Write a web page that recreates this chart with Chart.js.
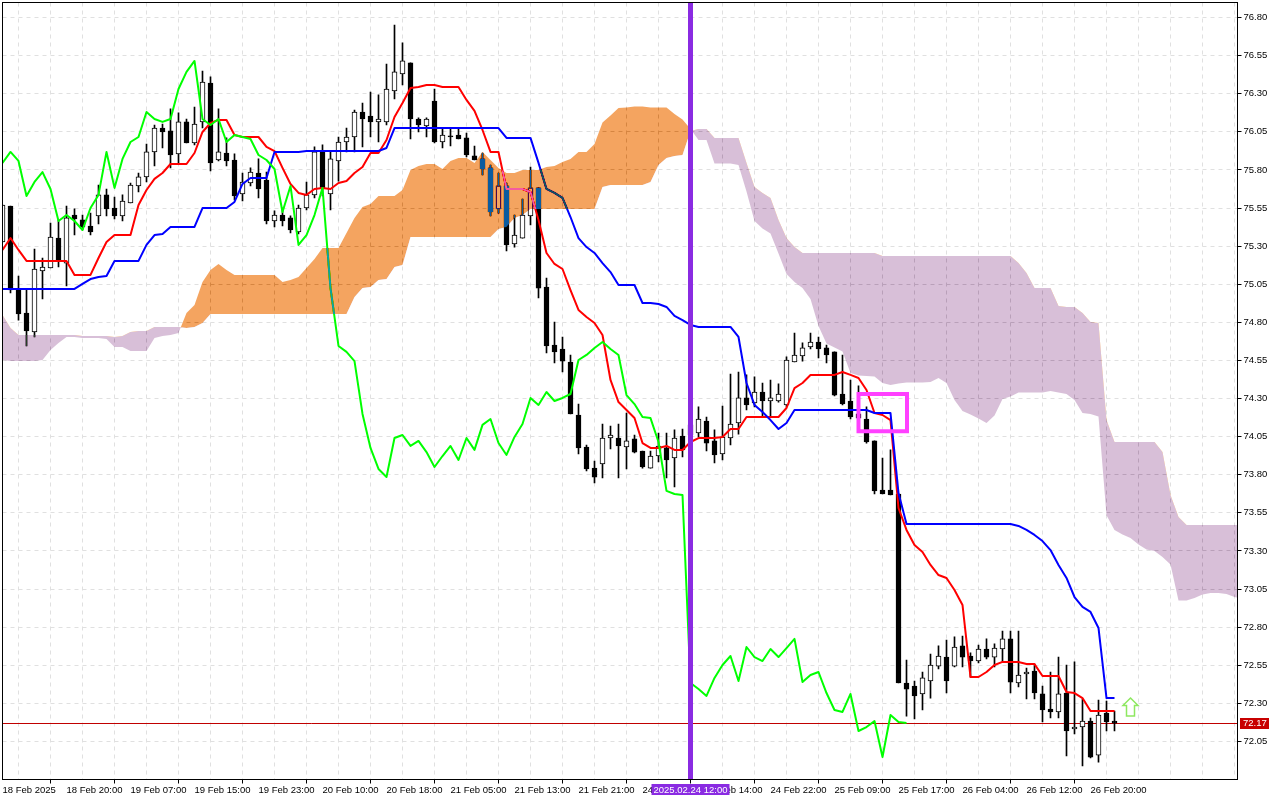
<!DOCTYPE html>
<html>
<head>
<meta charset="utf-8">
<title>Ichimoku H1</title>
<script src="https://cdn.jsdelivr.net/npm/chart.js"></script>
<style>
  html, body { margin: 0; padding: 0; background: #fff; }
  canvas { display: block; }
</style>
</head>
<body>
<canvas id="grafico" width="1280" height="800"></canvas>
<script>
// Tick labels
const xLabels = ["18 Feb 2025", "18 Feb 20:00", "19 Feb 07:00", "19 Feb 15:00", "19 Feb 23:00", "20 Feb 10:00",
  "20 Feb 18:00", "21 Feb 05:00", "21 Feb 13:00", "21 Feb 21:00", "24 Feb 06:00", "24 Feb 14:00", "24 Feb 22:00",
  "25 Feb 09:00", "25 Feb 17:00", "26 Feb 04:00", "26 Feb 12:00", "26 Feb 20:00"];
const yTicks = [76.80, 76.55, 76.30, 76.05, 75.80, 75.55, 75.30, 75.05, 74.80, 74.55, 74.30, 74.05, 73.80, 73.55,
  73.30, 73.05, 72.80, 72.55, 72.30, 72.05];

// Candles
const opens = [75.327, 75.563, 75.019, 74.861, 74.737, 75.137, 75.157, 75.353, 75.189, 75.504,
  75.472, 75.432, 75.498, 75.636, 75.550, 75.498, 75.583, 75.695, 75.754, 75.918,
  76.075, 76.056, 75.905, 76.115, 75.977, 76.115, 76.370, 75.865, 75.911, 75.865,
  75.642, 75.714, 75.780, 75.734, 75.465, 75.504, 75.485, 75.393, 75.550, 75.636,
  75.918, 75.642, 75.859, 75.983, 76.016, 76.180, 76.154, 76.115, 76.115, 76.318,
  76.430, 76.502, 76.134, 76.088, 76.252, 75.983, 76.023, 76.029, 76.010, 75.892,
  75.872, 75.813, 75.544, 75.695, 75.314, 75.353, 75.498, 75.682, 75.032, 74.651,
  74.625, 74.540, 74.192, 73.982, 73.844, 73.871, 74.041, 74.041, 73.982, 74.035,
  73.956, 73.844, 73.923, 73.976, 73.910, 74.054, 74.061, 74.074, 74.153, 74.022,
  73.936, 74.041, 74.140, 74.304, 74.271, 74.343, 74.284, 74.284, 74.258, 74.540,
  74.579, 74.638, 74.671, 74.632, 74.606, 74.330, 74.284, 74.199, 74.166, 74.022,
  73.700, 73.700, 73.674, 72.434, 72.414, 72.362, 72.447, 72.545, 72.604, 72.545,
  72.677, 72.611, 72.578, 72.657, 72.604, 72.657, 72.723, 72.434, 72.493, 72.512,
  72.362, 72.263, 72.244, 72.368, 72.132, 72.145, 72.184, 71.961, 72.237, 72.184];
const highs = [75.570, 75.563, 75.104, 75.012, 75.281, 75.222, 75.452, 75.472, 75.563, 75.544,
  75.504, 75.517, 75.701, 75.675, 75.622, 75.636, 75.714, 75.780, 75.970, 76.095,
  76.101, 76.200, 76.174, 76.134, 76.213, 76.449, 76.410, 76.200, 76.010, 75.905,
  75.780, 75.813, 75.872, 75.786, 75.531, 75.550, 75.498, 75.570, 75.721, 75.951,
  75.964, 75.918, 76.016, 76.075, 76.193, 76.239, 76.311, 76.292, 76.495, 76.751,
  76.633, 76.502, 76.141, 76.141, 76.331, 76.069, 76.069, 76.075, 76.042, 75.957,
  75.911, 75.832, 75.780, 75.714, 75.504, 75.609, 75.819, 75.682, 75.091, 74.802,
  74.704, 74.586, 74.264, 73.995, 73.890, 74.133, 74.120, 74.133, 74.205, 74.061,
  73.956, 73.956, 74.074, 74.074, 74.094, 74.100, 74.192, 74.245, 74.179, 74.094,
  74.251, 74.461, 74.474, 74.455, 74.442, 74.402, 74.422, 74.396, 74.573, 74.730,
  74.665, 74.730, 74.704, 74.651, 74.606, 74.586, 74.422, 74.383, 74.245, 74.022,
  73.910, 73.963, 73.674, 72.585, 72.447, 72.506, 72.624, 72.677, 72.716, 72.736,
  72.742, 72.631, 72.683, 72.723, 72.690, 72.775, 72.775, 72.775, 72.532, 72.558,
  72.414, 72.506, 72.604, 72.552, 72.572, 72.329, 72.204, 72.322, 72.316, 72.250];
const lows = [75.327, 74.993, 74.815, 74.645, 74.704, 74.953, 75.157, 75.163, 75.039, 75.373,
  75.406, 75.373, 75.445, 75.498, 75.478, 75.465, 75.583, 75.655, 75.721, 75.826,
  75.944, 75.813, 75.846, 75.977, 75.964, 76.075, 75.793, 75.859, 75.826, 75.603,
  75.596, 75.695, 75.616, 75.445, 75.426, 75.432, 75.386, 75.380, 75.537, 75.616,
  75.629, 75.537, 75.727, 75.918, 75.918, 75.951, 76.016, 75.983, 76.095, 76.265,
  76.357, 76.003, 76.049, 76.016, 75.977, 75.944, 75.957, 76.003, 75.885, 75.865,
  75.767, 75.498, 75.517, 75.268, 75.294, 75.353, 75.439, 74.960, 74.599, 74.533,
  74.474, 74.199, 73.936, 73.825, 73.746, 73.779, 73.969, 73.779, 73.838, 73.943,
  73.844, 73.844, 73.884, 73.779, 73.720, 73.917, 74.028, 74.048, 73.956, 73.877,
  73.897, 73.995, 74.067, 74.225, 74.245, 74.179, 74.179, 74.277, 74.245, 74.540,
  74.546, 74.625, 74.566, 74.533, 74.317, 74.258, 74.166, 74.150, 74.008, 73.674,
  73.674, 73.667, 72.434, 72.217, 72.198, 72.257, 72.335, 72.526, 72.368, 72.539,
  72.539, 72.473, 72.565, 72.591, 72.539, 72.572, 72.368, 72.408, 72.329, 72.329,
  72.178, 72.204, 72.204, 71.955, 72.099, 71.889, 71.942, 71.915, 72.119, 72.119];
const closes = [75.570, 75.012, 74.855, 74.743, 75.150, 75.163, 75.360, 75.203, 75.485, 75.478,
  75.426, 75.393, 75.636, 75.544, 75.498, 75.596, 75.701, 75.754, 75.918, 76.075,
  76.049, 75.898, 76.115, 75.977, 76.101, 76.377, 75.846, 75.918, 75.859, 75.629,
  75.721, 75.786, 75.675, 75.465, 75.504, 75.465, 75.406, 75.550, 75.636, 75.918,
  75.682, 75.872, 75.983, 76.016, 76.180, 76.134, 76.115, 76.134, 76.331, 76.443,
  76.515, 76.134, 76.095, 76.134, 75.983, 76.029, 76.016, 76.003, 75.898, 75.865,
  75.806, 75.524, 75.695, 75.308, 75.373, 75.504, 75.682, 75.025, 74.645, 74.606,
  74.546, 74.199, 73.976, 73.838, 73.785, 74.041, 74.061, 73.989, 74.022, 73.949,
  73.851, 73.923, 73.989, 73.897, 74.041, 73.963, 74.127, 74.166, 74.008, 73.930,
  74.048, 74.133, 74.304, 74.258, 74.343, 74.284, 74.304, 74.330, 74.553, 74.586,
  74.632, 74.671, 74.625, 74.586, 74.323, 74.264, 74.179, 74.172, 74.015, 73.694,
  73.674, 73.667, 72.434, 72.394, 72.349, 72.467, 72.552, 72.611, 72.447, 72.670,
  72.604, 72.578, 72.657, 72.604, 72.663, 72.723, 72.440, 72.486, 72.506, 72.368,
  72.257, 72.244, 72.362, 72.119, 72.145, 72.184, 71.948, 72.224, 72.178, 72.171];

// Ichimoku lines
const tenkan = [75.275, 75.353, 75.275, 75.203, 75.203, 75.203, 75.203, 75.203, 75.203, 75.111,
  75.111, 75.111, 75.222, 75.327, 75.373, 75.373, 75.373, 75.570, 75.668, 75.741,
  75.780, 75.839, 75.839, 75.839, 75.911, 76.049, 76.108, 76.128, 76.128, 76.029,
  76.016, 76.016, 76.016, 75.951, 75.924, 75.813, 75.708, 75.649, 75.636, 75.675,
  75.682, 75.675, 75.714, 75.727, 75.780, 75.819, 75.911, 75.911, 75.996, 76.147,
  76.239, 76.338, 76.344, 76.357, 76.357, 76.344, 76.344, 76.344, 76.259, 76.187,
  76.062, 75.918, 75.918, 75.675, 75.675, 75.675, 75.655, 75.472, 75.255, 75.183,
  75.150, 75.012, 74.881, 74.835, 74.796, 74.717, 74.422, 74.277, 74.225, 74.172,
  74.008, 73.976, 73.976, 73.989, 73.963, 73.963, 74.015, 74.041, 74.041, 74.041,
  74.048, 74.100, 74.100, 74.179, 74.179, 74.179, 74.179, 74.179, 74.238, 74.369,
  74.402, 74.455, 74.455, 74.455, 74.455, 74.474, 74.455, 74.435, 74.356, 74.205,
  74.192, 74.159, 73.582, 73.438, 73.339, 73.293, 73.208, 73.142, 73.123, 73.044,
  72.946, 72.473, 72.473, 72.506, 72.552, 72.572, 72.572, 72.572, 72.558, 72.558,
  72.480, 72.480, 72.480, 72.375, 72.368, 72.335, 72.250, 72.250, 72.250, 72.250];
const kijun = [75.019, 75.019, 75.019, 75.019, 75.019, 75.019, 75.019, 75.019, 75.019, 75.019,
  75.052, 75.084, 75.098, 75.104, 75.203, 75.203, 75.203, 75.203, 75.308, 75.373,
  75.380, 75.426, 75.426, 75.426, 75.426, 75.550, 75.550, 75.550, 75.550, 75.590,
  75.708, 75.747, 75.747, 75.747, 75.918, 75.918, 75.918, 75.918, 75.924, 75.924,
  75.924, 75.924, 75.924, 75.924, 75.924, 75.924, 75.924, 75.924, 75.944, 76.075,
  76.075, 76.075, 76.075, 76.075, 76.075, 76.075, 76.075, 76.075, 76.075, 76.075,
  76.075, 76.075, 76.075, 76.010, 76.010, 76.010, 76.010, 75.846, 75.675, 75.649,
  75.616, 75.491, 75.353, 75.294, 75.255, 75.189, 75.130, 75.045, 75.045, 75.045,
  74.927, 74.927, 74.920, 74.901, 74.842, 74.815, 74.783, 74.770, 74.770, 74.770,
  74.770, 74.770, 74.704, 74.402, 74.258, 74.212, 74.159, 74.100, 74.140, 74.225,
  74.225, 74.225, 74.225, 74.225, 74.225, 74.225, 74.225, 74.225, 74.225, 74.205,
  74.205, 74.205, 73.680, 73.477, 73.477, 73.477, 73.477, 73.477, 73.477, 73.477,
  73.477, 73.477, 73.477, 73.477, 73.477, 73.477, 73.477, 73.464, 73.438, 73.405,
  73.365, 73.306, 73.208, 73.123, 72.998, 72.933, 72.900, 72.795, 72.335, 72.335];
const chikou = [75.846, 75.918, 75.859, 75.629, 75.721, 75.786, 75.675, 75.465, 75.504, 75.465,
  75.406, 75.550, 75.636, 75.918, 75.682, 75.872, 75.983, 76.016, 76.180, 76.134,
  76.115, 76.134, 76.331, 76.443, 76.515, 76.134, 76.095, 76.134, 75.983, 76.029,
  76.016, 76.003, 75.898, 75.865, 75.806, 75.524, 75.695, 75.308, 75.373, 75.504,
  75.682, 75.025, 74.645, 74.606, 74.546, 74.199, 73.976, 73.838, 73.785, 74.041,
  74.061, 73.989, 74.022, 73.949, 73.851, 73.923, 73.989, 73.897, 74.041, 73.963,
  74.127, 74.166, 74.008, 73.930, 74.048, 74.133, 74.304, 74.258, 74.343, 74.284,
  74.304, 74.330, 74.553, 74.586, 74.632, 74.671, 74.625, 74.586, 74.323, 74.264,
  74.179, 74.172, 74.015, 73.694, 73.674, 73.667, 72.434, 72.394, 72.349, 72.467,
  72.552, 72.611, 72.447, 72.670, 72.604, 72.578, 72.657, 72.604, 72.663, 72.723,
  72.440, 72.486, 72.506, 72.368, 72.257, 72.244, 72.362, 72.119, 72.145, 72.184,
  71.948, 72.224, 72.178, 72.171];

// Kumo edges, already shifted forward
const senkouA = [74.553, 74.546, 74.546, 74.546, 74.546, 74.553, 74.619, 74.665, 74.704, 74.704,
  74.697, 74.697, 74.697, 74.691, 74.638, 74.638, 74.612, 74.612, 74.612, 74.697,
  74.710, 74.717, 74.730, 74.861, 74.914, 75.065, 75.144, 75.183, 75.144, 75.111,
  75.111, 75.111, 75.111, 75.111, 75.111, 75.065, 75.078, 75.098, 75.157, 75.216,
  75.288, 75.288, 75.288, 75.386, 75.485, 75.557, 75.577, 75.629, 75.629, 75.629,
  75.668, 75.800, 75.826, 75.839, 75.839, 75.806, 75.859, 75.878, 75.878, 75.846,
  75.918, 75.865, 75.813, 75.780, 75.780, 75.800, 75.800, 75.800, 75.819, 75.826,
  75.852, 75.872, 75.918, 75.918, 75.970, 76.111, 76.157, 76.206, 76.210, 76.216,
  76.216, 76.210, 76.210, 76.210, 76.167, 76.131, 76.069, 75.996, 75.996, 75.842,
  75.842, 75.842, 75.832, 75.659, 75.465, 75.416, 75.383, 75.252, 75.117, 75.065,
  75.025, 74.953, 74.776, 74.661, 74.635, 74.609, 74.468, 74.451, 74.448, 74.445,
  74.402, 74.389, 74.399, 74.405, 74.405, 74.405, 74.409, 74.435, 74.402, 74.291,
  74.218, 74.195, 74.169, 74.140, 74.189, 74.297, 74.314, 74.340, 74.340, 74.340,
  74.340, 74.350, 74.340, 74.330, 74.291, 74.205, 74.199, 74.182, 73.535, 73.438,
  73.408, 73.385, 73.342, 73.310, 73.300, 73.261, 73.211, 72.975, 72.975, 72.991,
  73.014, 73.024, 73.024, 73.018, 72.998, 72.985];
const senkouB = [74.848, 74.763, 74.717, 74.717, 74.717, 74.717, 74.717, 74.717, 74.717, 74.717,
  74.710, 74.710, 74.710, 74.710, 74.704, 74.710, 74.737, 74.743, 74.743, 74.770,
  74.770, 74.770, 74.770, 74.763, 74.770, 74.796, 74.855, 74.855, 74.855, 74.855,
  74.855, 74.855, 74.855, 74.855, 74.855, 74.855, 74.855, 74.855, 74.855, 74.855,
  74.855, 74.855, 74.855, 74.855, 74.966, 75.025, 75.032, 75.078, 75.084, 75.163,
  75.176, 75.360, 75.360, 75.360, 75.360, 75.360, 75.360, 75.360, 75.360, 75.360,
  75.360, 75.360, 75.413, 75.426, 75.485, 75.504, 75.544, 75.544, 75.544, 75.544,
  75.544, 75.544, 75.544, 75.544, 75.544, 75.688, 75.701, 75.701, 75.701, 75.701,
  75.701, 75.721, 75.832, 75.878, 75.892, 75.898, 76.056, 76.069, 76.069, 76.010,
  76.010, 76.010, 76.010, 75.846, 75.688, 75.649, 75.616, 75.472, 75.353, 75.294,
  75.2545, 75.2545, 75.2545, 75.2545, 75.2545, 75.2545, 75.2545, 75.2545, 75.2545, 75.2545,
  75.235, 75.235, 75.235, 75.235, 75.235, 75.235, 75.235, 75.235, 75.235, 75.235,
  75.235, 75.235, 75.235, 75.235, 75.235, 75.235, 75.235, 75.189, 75.124, 75.025,
  75.025, 75.025, 74.907, 74.901, 74.901, 74.861, 74.802, 74.796, 74.159, 74.015,
  74.015, 74.015, 74.015, 74.015, 74.015, 73.949, 73.667, 73.523, 73.4705, 73.4705,
  73.4705, 73.4705, 73.4705, 73.4705, 73.4705, 73.4705];

// Annotations
const lastPrice = 72.168;
const markerBar = 86;
const markerLabel = "2025.02.24 12:00";
const boxX = [107, 113.06, 113.06, 107, 107];
const boxY = [74.33, 74.33, 74.085, 74.085, 74.33];
const arrowBar = 141;
const arrowPrice = 72.273;

const yMin = 71.8007, yMax = 76.8984;
const xMax = 154.375;

const bars = opens.map((o, i) => i);
const pts = (arr) => arr.map((y, i) => ({ x: i, y: y }));
const linea = (label, data, color, order) => ({
  type: "line", label, data, order, borderColor: color, borderWidth: 2,
  pointRadius: 0, tension: 0, fill: false, borderJoinStyle: "round"
});
// no extra room for the first and last tick labels
const sinPadding = (s) => { s.paddingTop = 0; s.paddingBottom = 0; s.paddingLeft = 0; s.paddingRight = 0; };

const fondo = {
  id: "fondo",
  beforeDraw(chart) {
    const c = chart.ctx;
    c.save();
    c.fillStyle = "#ffffff";
    c.fillRect(0, 0, chart.width, chart.height);
    c.restore();
  },
  // the kumo inverts whatever is under it, same as the terminal does
  afterDatasetDraw(chart, args) {
    const name = chart.data.datasets[args.index].label;
    if (name === "Chikou") chart.ctx.globalCompositeOperation = "difference";
    if (name === "Senkou A") chart.ctx.globalCompositeOperation = "source-over";
  },
  afterDraw(chart) {
    const c = chart.ctx, a = chart.chartArea;
    const x = chart.scales.x, y = chart.scales.y;
    c.save();
    c.strokeStyle = "#000000";
    c.lineWidth = 1;
    c.strokeRect(a.left, a.top, a.right - a.left, a.bottom - a.top);

    // last price tag
    const py = Math.floor(y.getPixelForValue(lastPrice));
    c.fillStyle = "#c80000";
    c.fillRect(1240, py - 5, 29, 11);
    c.fillStyle = "#ffffff";
    c.font = "9.5px 'Liberation Sans'";
    c.textBaseline = "middle";
    c.textAlign = "left";
    c.fillText(lastPrice.toFixed(2), 1243, py + 0.5);

    // vertical marker date
    const mx = x.getPixelForValue(markerBar);
    c.fillStyle = "#8a2be2";
    c.fillRect(mx - 39, 784, 78, 11);
    c.fillStyle = "#ffffff";
    c.textAlign = "center";
    c.fillText(markerLabel, mx, 790);

    // buy arrow
    const ax = x.getPixelForValue(arrowBar), ay = y.getPixelForValue(arrowPrice);
    c.beginPath();
    c.moveTo(ax, ay - 9.5);
    c.lineTo(ax + 7.5, ay - 2);
    c.lineTo(ax + 4, ay - 2);
    c.lineTo(ax + 4, ay + 8.5);
    c.lineTo(ax - 4, ay + 8.5);
    c.lineTo(ax - 4, ay - 2);
    c.lineTo(ax - 7.5, ay - 2);
    c.closePath();
    c.fillStyle = "#ffffff";
    c.fill();
    c.strokeStyle = "#8ee860";
    c.lineWidth = 1.5;
    c.stroke();
    c.restore();
  }
};

new Chart(document.getElementById("grafico").getContext("2d"), {
  data: {
    datasets: [
      {
        type: "line", label: "Box", data: boxX.map((v, i) => ({ x: v, y: boxY[i] })), order: 1,
        borderColor: "#ff40ff", borderWidth: 4, pointRadius: 0, tension: 0, fill: false,
        borderJoinStyle: "miter", borderCapStyle: "square"
      },
      {
        type: "line", label: "Marker", data: [{ x: markerBar, y: yMin }, { x: markerBar, y: yMax }], order: 2,
        borderColor: "#8a2be2", borderWidth: 5, pointRadius: 0, fill: false
      },
      {
        type: "line", label: "Senkou A", data: pts(senkouA), order: 3, borderWidth: 0, pointRadius: 0, tension: 0,
        fill: { target: "+1", above: "#0b5b9f", below: "#274027" }
      },
      {
        type: "line", label: "Senkou B", data: pts(senkouB), order: 20, borderWidth: 0, pointRadius: 0, tension: 0,
        fill: false
      },
      linea("Chikou", pts(chikou), "#00ff00", 4),
      linea("Kijun", pts(kijun), "#0000ff", 5),
      linea("Tenkan", pts(tenkan), "#ff0000", 6),
      {
        type: "bar", label: "Bodies", order: 7, grouped: false, barThickness: 5,
        data: bars.map((i) => ({ x: i, y: [opens[i], closes[i]] })),
        backgroundColor: bars.map((i) => (closes[i] >= opens[i] ? "#ffffff" : "#000000")),
        borderColor: "#000000", borderWidth: 1, borderSkipped: false
      },
      {
        type: "bar", label: "Wicks", order: 8, grouped: false, barThickness: 1,
        data: bars.map((i) => ({ x: i, y: [lows[i], highs[i]] })),
        backgroundColor: "#000000", borderWidth: 0
      },
      {
        type: "line", label: "Last", data: [{ x: 0, y: lastPrice }, { x: xMax, y: lastPrice }], order: 9,
        borderColor: "#c00000", borderWidth: 1, pointRadius: 0, fill: false
      }
    ]
  },
  options: {
    responsive: false,
    animation: false,
    events: [],
    layout: { padding: { left: 2.5, top: 2.5, right: 0, bottom: 0 } },
    plugins: { legend: { display: false }, tooltip: { enabled: false } },
    scales: {
      x: {
        type: "linear", min: 0, max: xMax, offset: false,
        afterFit(s) { s.height = 20.5; sinPadding(s); },
        border: { display: false, dash: [4, 4] },
        grid: {
          color: "#e0e0e0", lineWidth: 1, tickLength: 4,
          tickColor: (c) => (c.tick && c.tick.value % 8 === 0 && xLabels[c.tick.value / 8] ? "#000000" : "rgba(0,0,0,0)")
        },
        ticks: {
          stepSize: 4, autoSkip: false, maxRotation: 0, minRotation: 0, includeBounds: false, align: "start", padding: 1,
          color: "#000000", font: { family: "'Liberation Sans'", size: 9.5 },
          callback: (v) => (v % 8 === 0 ? (xLabels[v / 8] || "") : "")
        }
      },
      y: {
        type: "linear", position: "right", min: yMin, max: yMax,
        afterFit(s) { s.width = 42.5; sinPadding(s); },
        afterBuildTicks(s) { s.ticks = yTicks.map((v) => ({ value: v })); },
        border: { display: false, dash: [4, 4] },
        grid: { color: "#e0e0e0", lineWidth: 1, tickLength: 4, tickColor: "#000000" },
        ticks: {
          autoSkip: false, padding: 2, color: "#000000", font: { family: "'Liberation Sans'", size: 9.5 },
          callback: (v) => v.toFixed(2)
        }
      }
    }
  },
  plugins: [fondo]
});
</script>
</body>
</html>
